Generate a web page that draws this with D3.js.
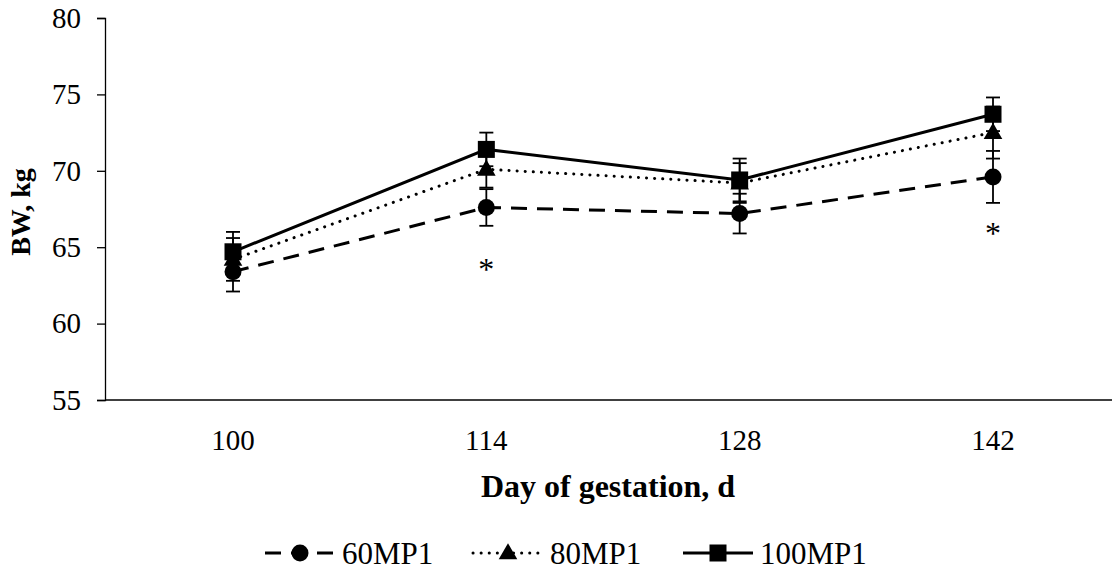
<!DOCTYPE html>
<html>
<head>
<meta charset="utf-8">
<script src="https://cdn.jsdelivr.net/npm/d3@7"></script>
<style>
  body { margin: 0; background: #fff; }
  text { font-family: "Liberation Serif", "Times New Roman", serif; }
</style>
</head>
<body>
<div id="viz"></div>
<script>
// data
var days = ["100", "114", "128", "142"];
var mp60 = [63.4, 67.6, 67.2, 69.6];
var mp60se = [1.3, 1.2, 1.3, 1.7];
var mp80 = [64.2, 70.1, 69.2, 72.5];
var mp80se = [1.4, 1.2, 1.3, 1.7];
var mp100 = [64.7, 71.4, 69.4, 73.7];
var mp100se = [1.3, 1.1, 1.4, 1.1];
var yTicks = [55, 60, 65, 70, 75, 80];
var stars = [{ day: "114", y: 64.0 }, { day: "142", y: 66.4 }];

var series = [
  { name: "60MP1", values: mp60, se: mp60se, dash: "16,10", cap: "butt", marker: "circle" },
  { name: "80MP1", values: mp80, se: mp80se, dash: "0.1,8", cap: "round", marker: "triangle" },
  { name: "100MP1", values: mp100, se: mp100se, dash: null, cap: "butt", marker: "square" }
];

var width = 1115, height = 578;
var svg = d3.select("#viz").append("svg")
  .attr("width", width).attr("height", height);

var x = d3.scalePoint().domain(days).range([233, 993]);
var y = d3.scaleLinear().domain([55, 80]).range([400, 18]);

// y axis
var yAxis = svg.append("g")
  .attr("transform", "translate(105,0)")
  .call(d3.axisLeft(y).tickValues(yTicks).tickSize(8).tickPadding(16));
yAxis.select(".domain").attr("stroke", "#000").attr("stroke-width", 1.3);
yAxis.selectAll(".tick line").attr("stroke", "#000").attr("stroke-width", 1.3);
yAxis.selectAll(".tick text")
  .attr("font-size", 29).attr("fill", "#000")
  .style("font-family", "Liberation Serif");

// x axis line
svg.append("line")
  .attr("x1", 105).attr("x2", 1112)
  .attr("y1", y(55)).attr("y2", y(55))
  .attr("stroke", "#000").attr("stroke-width", 1.3);

svg.selectAll(".xlab").data(days).enter().append("text")
  .attr("x", function (d) { return x(d); })
  .attr("y", 450)
  .attr("text-anchor", "middle")
  .attr("font-size", 29)
  .text(function (d) { return d; });

// axis titles
svg.append("text")
  .attr("x", 608).attr("y", 497)
  .attr("text-anchor", "middle")
  .attr("font-size", 32).attr("font-weight", "bold")
  .text("Day of gestation, d");

svg.append("text")
  .attr("transform", "translate(30,212) rotate(-90)")
  .attr("text-anchor", "middle")
  .attr("font-size", 28).attr("font-weight", "bold")
  .text("BW, kg");

// error bars
series.forEach(function (s) {
  var g = svg.append("g");
  days.forEach(function (d, i) {
    var lo = y(s.values[i] - s.se[i]), hi = y(s.values[i] + s.se[i]);
    g.append("line").attr("x1", x(d)).attr("x2", x(d))
      .attr("y1", lo).attr("y2", hi)
      .attr("stroke", "#000").attr("stroke-width", 1.8);
    [lo, hi].forEach(function (yy) {
      g.append("line").attr("x1", x(d) - 7).attr("x2", x(d) + 7)
        .attr("y1", yy).attr("y2", yy)
        .attr("stroke", "#000").attr("stroke-width", 1.8);
    });
  });
});

var line = d3.line()
  .x(function (d, i) { return x(days[i]); })
  .y(function (d) { return y(d); });

function drawMarker(g, type, cx, cy) {
  if (type === "circle") {
    g.append("circle").attr("cx", cx).attr("cy", cy).attr("r", 8.5).attr("fill", "#000");
  } else if (type === "square") {
    g.append("rect").attr("x", cx - 8.5).attr("y", cy - 8.5)
      .attr("width", 17).attr("height", 17).attr("fill", "#000");
  } else {
    g.append("path")
      .attr("d", d3.symbol().type(d3.symbolTriangle).size(150))
      .attr("transform", "translate(" + cx + "," + (cy + 1) + ")")
      .attr("fill", "#000");
  }
}

series.forEach(function (s) {
  svg.append("path")
    .datum(s.values)
    .attr("d", line)
    .attr("fill", "none")
    .attr("stroke", "#000")
    .attr("stroke-width", 3)
    .attr("stroke-linecap", s.cap)
    .attr("stroke-dasharray", s.dash);
  var g = svg.append("g");
  s.values.forEach(function (v, i) {
    drawMarker(g, s.marker, x(days[i]), y(v));
  });
});

// significance marks
svg.selectAll(".star").data(stars).enter().append("text")
  .attr("x", function (d) { return x(d.day); })
  .attr("y", function (d) { return y(d.y) + 18; })
  .attr("text-anchor", "middle")
  .attr("font-size", 32)
  .text("*");

// legend
var legendX = [300, 508, 718];
var legend = svg.append("g");
series.forEach(function (s, i) {
  var lx = legendX[i], ly = 553;
  legend.append("line")
    .attr("x1", lx - 35).attr("x2", lx + 35)
    .attr("y1", ly).attr("y2", ly)
    .attr("stroke", "#000").attr("stroke-width", 3)
    .attr("stroke-linecap", s.cap)
    .attr("stroke-dasharray", s.dash);
  drawMarker(legend, s.marker, lx, ly);
  legend.append("text")
    .attr("x", lx + 42).attr("y", ly + 11)
    .attr("font-size", 31)
    .text(s.name);
});
</script>
</body>
</html>
